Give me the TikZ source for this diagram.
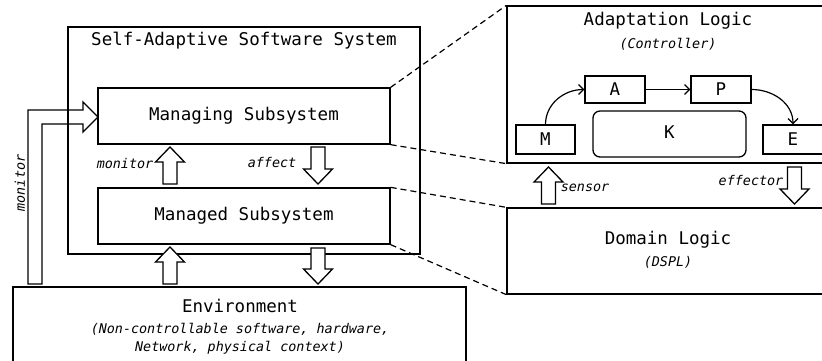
\documentclass[tikz,border=0pt]{standalone}
\usepackage{fontspec}
\setmainfont{DejaVu Sans Mono}
\usetikzlibrary{arrows.meta,calc}
\tikzset{
  box/.style={draw, line width=1.3pt, rectangle, inner sep=0pt},
  big/.style={font=\fontsize{17.5}{20}\selectfont},
  ital/.style={font=\fontsize{13.4}{16}\selectfont\itshape},
  dash/.style={},
  zoomline/.style={draw, line width=1.2pt, dash pattern=on 6pt off 4pt},
  blk/.style={draw, line width=1.3pt, fill=white, line join=miter},
  curv/.style={draw, line width=1.2pt, -{Straight Barb[length=5pt,width=10pt]}}
}
% up block arrow: x, tip y, bottom y
\newcommand\myblkup[3]{\path[blk] (#1-7,#3) -- (#1-7,#2+15) -- (#1-14.5,#2+15) -- (#1,#2) -- (#1+14.5,#2+15) -- (#1+7,#2+15) -- (#1+7,#3) -- cycle;}
% down block arrow: x, top y, tip y
\newcommand\myblkdown[3]{\path[blk] (#1-7,#2) -- (#1-7,#3-15) -- (#1-14.5,#3-15) -- (#1,#3) -- (#1+14.5,#3-15) -- (#1+7,#3-15) -- (#1+7,#2) -- cycle;}
\begin{document}
\begin{tikzpicture}[x=1pt,y=-1pt]
\useasboundingbox (0,0) rectangle (822,360);
\clip (0,0) rectangle (822,360);
% Big monitor L arrow (unfilled, box line visible through it)
\draw[line width=1.3pt, line join=miter] (28,284) -- (28,110) -- (83,110) -- (83,102) -- (98,117) -- (83,132) -- (83,124) -- (42,124) -- (42,284) -- cycle;
\node[ital, rotate=90] (monl) at (20,183) {monitor};
% Self-adaptive system
\node[box, minimum width=352pt, minimum height=227pt] (sys) at (244,140.5) {};
\node[big] (syst) at (244,41) {Self-Adaptive Software System};
\node[box, big, minimum width=292pt, minimum height=56pt] (ming) at (244,116) {Managing Subsystem};
\node[box, big, minimum width=292pt, minimum height=56pt] (med) at (244,216) {Managed Subsystem};
% Environment
\node[box, minimum width=453pt, minimum height=100pt] (env) at (239.5,337) {};
\node[big] (envt) at (240,306) {Environment};
\node[ital] (envs1) at (240,329) {(Non-controllable software, hardware,};
\node[ital] (envs2) at (240,348) {Network, physical context)};
% Adaptation logic
\node[box, minimum width=323pt, minimum height=157pt] (adapt) at (668.5,84.5) {};
\node[big] (adt) at (668,21) {Adaptation Logic};
\node[ital] (ads) at (668,44) {(Controller)};
\node[box, big, minimum width=59pt, minimum height=29pt] (M) at (545.5,139.5) {M};
\node[box, big, minimum width=60pt, minimum height=27pt] (A) at (615,89.5) {A};
\node[box, big, minimum width=60pt, minimum height=27pt] (P) at (721,89.5) {P};
\node[box, rounded corners=7pt, minimum width=153pt, minimum height=46pt] (K) at (669.5,134) {};
\node[big] (Kt) at (669.5,132) {K};
\node[box, big, minimum width=60pt, minimum height=29pt] (E) at (793,139.5) {E};
% Domain logic
\node[box, minimum width=323pt, minimum height=86pt] (dom) at (668.5,251) {};
\node[big] (domt) at (668,240) {Domain Logic};
\node[ital] (doms) at (668,262) {(DSPL)};
% MAPE arrows
\draw[curv] (M.north) to[out=90,in=180] (A.west);
\draw[curv] (A.east) -- (P.west);
\draw[curv] (P.east) to[out=0,in=90] (E.north);
% zoom lines
\draw[zoomline] (ming.north east) -- (adapt.north west);
\draw[zoomline] (ming.south east) -- (adapt.south west);
\draw[zoomline] (med.north east) -- (dom.north west);
\draw[zoomline] (med.south east) -- (dom.south west);
% block arrows
\myblkup{170}{147}{184}
\myblkdown{318}{147}{184}
\myblkup{170}{247}{284}
\myblkdown{318}{248}{284}
\myblkup{548.5}{167}{204}
\myblkdown{794.5}{167}{204}
% labels
\node[ital] (lmon) at (125,163) {monitor};
\node[ital] (laff) at (272,162) {affect};
\node[ital] (lsen) at (585,188) {sensor};
\node[ital] (leff) at (751,180) {effector};
\end{tikzpicture}
\end{document}
